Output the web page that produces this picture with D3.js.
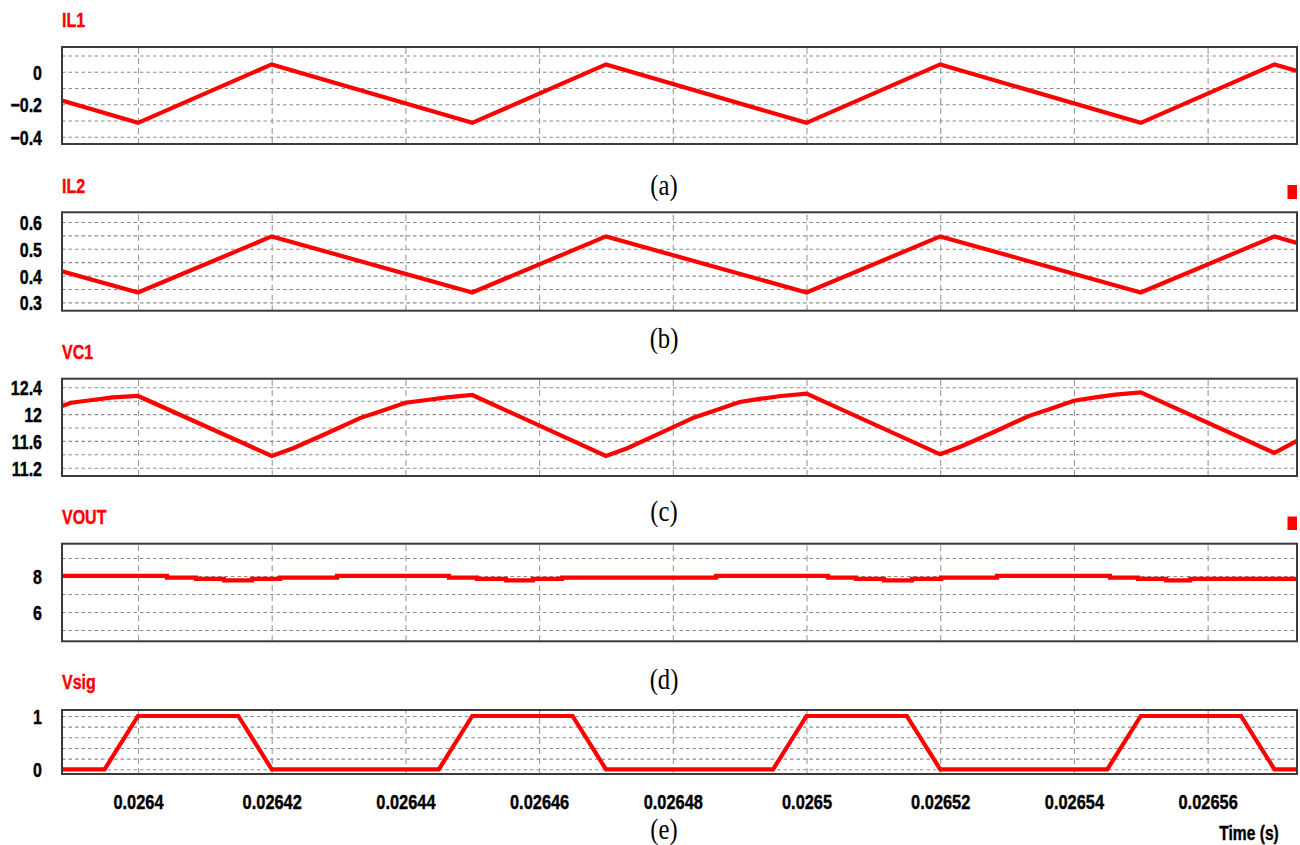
<!DOCTYPE html>
<html>
<head>
<meta charset="utf-8">
<script src="https://cdn.jsdelivr.net/npm/d3@7"></script>
<style>
  html, body { margin: 0; padding: 0; background: #fff; }
  svg { display: block; }
</style>
</head>
<body>
<svg id="chart" width="1300" height="845"></svg>
<script>
// ---------------- DATA ----------------
const timeDomain = [0.02638863, 0.02657337];
const xTicks = [0.0264, 0.02642, 0.02644, 0.02646, 0.02648, 0.0265, 0.02652, 0.02654, 0.02656];
const xTickLabels = ["0.0264", "0.02642", "0.02644", "0.02646", "0.02648", "0.0265", "0.02652", "0.02654", "0.02656"];

// IL1
const il1Time  = [0.02638863, 0.0264, 0.02642, 0.02645, 0.02647, 0.0265, 0.02652, 0.02655, 0.02657, 0.02657337];
const il1Value = [-0.178, -0.315, 0.045, -0.315, 0.045, -0.315, 0.045, -0.315, 0.045, 0.004];
const il1Ticks = [0, -0.2, -0.4];
const il1Grid  = [0.1, 0, -0.1, -0.2, -0.3, -0.4];

// IL2
const il2Time  = [0.02638863, 0.0264, 0.02642, 0.02645, 0.02647, 0.0265, 0.02652, 0.02655, 0.02657, 0.02657337];
const il2Value = [0.416, 0.337, 0.546, 0.337, 0.546, 0.337, 0.546, 0.337, 0.546, 0.522];
const il2Ticks = [0.6, 0.5, 0.4, 0.3];
const il2Grid  = [0.6, 0.55, 0.5, 0.45, 0.4, 0.35, 0.3];

// VC1
const vc1Time  = [0.02638863, 0.02639, 0.0263932, 0.0263962, 0.0264,
                  0.02642, 0.0264232, 0.0264282, 0.0264332, 0.0264362, 0.02644, 0.0264432, 0.0264462, 0.02645,
                  0.02647, 0.0264732, 0.0264782, 0.0264832, 0.0264862, 0.02649, 0.0264932, 0.0264962, 0.0265,
                  0.02652, 0.0265232, 0.0265282, 0.0265332, 0.0265362, 0.02654, 0.0265432, 0.0265462, 0.02655,
                  0.02657, 0.02657337];
const vc1Value = [12.12, 12.17, 12.21, 12.25, 12.27,
                  11.375, 11.49, 11.71, 11.94, 12.04, 12.17, 12.21, 12.25, 12.285,
                  11.375, 11.49, 11.72, 11.95, 12.05, 12.18, 12.23, 12.27, 12.305,
                  11.40, 11.52, 11.74, 11.97, 12.07, 12.20, 12.25, 12.29, 12.325,
                  11.42, 11.60];
const vc1Ticks = [12.4, 12, 11.6, 11.2];
const vc1Grid  = [12.4, 12.2, 12.0, 11.8, 11.6, 11.4, 11.2];

// VOUT (stepped)
const voutTime  = [0.02638863, 0.02640434, 0.02640868, 0.02641286, 0.02641705, 0.02642124, 0.02642977,
                   0.02644652, 0.0264507, 0.02645504, 0.02645908, 0.02646342, 0.02648646,
                   0.02650321, 0.0265074, 0.02651159, 0.02651578, 0.02652012, 0.0265285,
                   0.0265454, 0.0265496, 0.0265538, 0.0265574, 0.02657337];
const voutValue = [8.0, 7.906, 7.833, 7.756, 7.833, 7.906, 8.0,
                   7.906, 7.833, 7.756, 7.833, 7.906, 8.0,
                   7.906, 7.833, 7.756, 7.833, 7.906, 8.0,
                   7.906, 7.833, 7.756, 7.833, 7.833];
const voutTicks = [8, 6];
const voutGrid  = [9, 8, 7, 6, 5];

// Vsig
const vsigTime  = [0.02638863, 0.026395, 0.0264, 0.026415, 0.02642, 0.026445, 0.02645, 0.026465, 0.02647,
                   0.026495, 0.0265, 0.026515, 0.02652, 0.026545, 0.02655, 0.026565, 0.02657, 0.02657337];
const vsigValue = [0, 0, 1, 1, 0, 0, 1, 1, 0, 0, 1, 1, 0, 0, 1, 1, 0, 0];
const vsigTicks = [1, 0];
const vsigGrid  = [1, 0.8, 0.6, 0.4, 0.2, 0];

const panelNames = ["IL1", "IL2", "VC1", "VOUT", "Vsig"];
const captions = ["(a)", "(b)", "(c)", "(d)", "(e)"];

// ---------------- LAYOUT ----------------
const svg = d3.select("#chart");
const left = 62, right = 1297;
const panels = [
  { name: panelNames[0], top: 47,    bottom: 144,   domain: [-0.445, 0.152], t: il1Time,  v: il1Value,  ticks: il1Ticks,  grid: il1Grid,  fmt: d => d === 0 ? "0" : d3.format(".1f")(d), titleY: 27,  capY: 195 },
  { name: panelNames[1], top: 212.3, bottom: 310.7, domain: [0.269, 0.636],  t: il2Time,  v: il2Value,  ticks: il2Ticks,  grid: il2Grid,  fmt: d3.format(".1f"), titleY: 193, capY: 348 },
  { name: panelNames[2], top: 378.7, bottom: 476,   domain: [11.076, 12.528], t: vc1Time, v: vc1Value,  ticks: vc1Ticks,  grid: vc1Grid,  fmt: d => d3.format("")(d), titleY: 359, capY: 521 },
  { name: panelNames[3], top: 543.7, bottom: 641.3, domain: [4.37, 9.79],    t: voutTime, v: voutValue, ticks: voutTicks, grid: voutGrid, fmt: d3.format("d"), titleY: 524, capY: 689, step: true },
  { name: panelNames[4], top: 710,   bottom: 774,   domain: [-0.088, 1.1125], t: vsigTime, v: vsigValue, ticks: vsigTicks, grid: vsigGrid, fmt: d3.format("d"), titleY: 689, capY: 839 }
];

const x = d3.scaleLinear().domain(timeDomain).range([left, right]);
const SX = 0.8; // horizontal text compression seen in the reference

function addText(g, tx, ty, str, opts) {
  const t = g.append("text")
    .attr("transform", `translate(${tx},${ty}) scale(${opts.sx || SX},1)`)
    .attr("font-family", opts.family || "'Liberation Sans', Arial, sans-serif")
    .attr("font-weight", opts.weight || "bold")
    .attr("font-size", opts.size)
    .attr("fill", opts.fill || "#000")
    .attr("stroke", opts.stroke || "none")
    .attr("stroke-width", opts.strokeWidth || 0)
    .attr("text-anchor", opts.anchor || "start")
    .text(str);
  return t;
}

panels.forEach((p, i) => {
  const g = svg.append("g");
  const y = d3.scaleLinear().domain(p.domain).range([p.bottom, p.top]);
  const h = p.bottom - p.top;

  // horizontal dashed grid
  g.append("g")
    .attr("transform", `translate(${left},0)`)
    .call(d3.axisLeft(y).tickValues(p.grid).tickSize(-(right - left)).tickFormat(""))
    .call(a => a.select(".domain").remove())
    .call(a => a.selectAll("line").attr("stroke", "#8c8c8c").attr("stroke-width", 1.1).attr("stroke-dasharray", "3.5,3"));

  // vertical dashed grid
  g.append("g")
    .attr("transform", `translate(0,${p.bottom})`)
    .call(d3.axisBottom(x).tickValues(xTicks).tickSize(-h).tickFormat(""))
    .call(a => a.select(".domain").remove())
    .call(a => a.selectAll("line").attr("stroke", "#9a9a9a").attr("stroke-width", 1.1).attr("stroke-dasharray", "6,4"));

  // y tick labels
  const ya = g.append("g")
    .attr("transform", `translate(${left},0)`)
    .call(d3.axisLeft(y).tickValues(p.ticks).tickSize(0).tickPadding(0).tickFormat(p.fmt));
  ya.select(".domain").remove();
  ya.selectAll("text")
    .attr("x", null).attr("dy", null)
    .attr("transform", `translate(-20,7.5) scale(${SX},1)`)
    .attr("font-family", "'Liberation Sans', Arial, sans-serif")
    .attr("font-weight", "bold")
    .attr("font-size", 20)
    .attr("fill", "#000")
    .attr("stroke", "#000")
    .attr("stroke-width", 0.4);

  // waveform
  const line = d3.line()
    .x((d, k) => x(p.t[k]))
    .y((d, k) => y(p.v[k]))
    .curve(p.step ? d3.curveStepAfter : d3.curveLinear);
  g.append("clipPath").attr("id", "clip" + i)
    .append("rect").attr("x", left).attr("y", p.top).attr("width", right - left).attr("height", h);
  g.append("path")
    .datum(p.v)
    .attr("d", line)
    .attr("fill", "none")
    .attr("stroke", "#ff0000")
    .attr("stroke-width", 4.2)
    .attr("stroke-linejoin", "miter")
    .attr("clip-path", `url(#clip${i})`);

  // frame
  g.append("rect")
    .attr("x", left).attr("y", p.top)
    .attr("width", right - left).attr("height", h)
    .attr("fill", "none").attr("stroke", "#3a3a3a").attr("stroke-width", 2);

  // panel title
  addText(g, left, p.titleY, p.name, { size: 20, fill: "#ff0000", stroke: "#ff0000", strokeWidth: 0.4 });

  // caption
  addText(g, 664, p.capY, captions[i], { size: 29, weight: "normal", family: "'Liberation Serif', 'Times New Roman', serif", anchor: "middle", sx: 0.85 });

  // bottom tick labels on last panel
  if (i === panels.length - 1) {
    const xa = g.append("g")
      .attr("transform", `translate(0,${p.bottom})`)
      .call(d3.axisBottom(x).tickValues(xTicks).tickSize(0).tickPadding(0).tickFormat((d, k) => xTickLabels[k]));
    xa.select(".domain").remove();
    xa.selectAll("text")
      .attr("y", null).attr("dy", null)
      .attr("transform", `translate(0,34.5) scale(${SX},1)`)
      .attr("font-family", "'Liberation Sans', Arial, sans-serif")
      .attr("font-weight", "bold")
      .attr("font-size", 20.5)
      .attr("fill", "#000")
      .attr("stroke", "#000")
      .attr("stroke-width", 0.4);
  }
});

// axis title
addText(svg, 1249, 840, "Time (s)", { size: 19.5, anchor: "middle", stroke: "#000", strokeWidth: 0.4 });

// small red markers at the right edge (as in the reference)
svg.append("rect").attr("x", 1287.5).attr("y", 185).attr("width", 9.5).attr("height", 14).attr("fill", "#ff0000");
svg.append("rect").attr("x", 1287.5).attr("y", 516.5).attr("width", 9.5).attr("height", 13.5).attr("fill", "#ff0000");
</script>
</body>
</html>
